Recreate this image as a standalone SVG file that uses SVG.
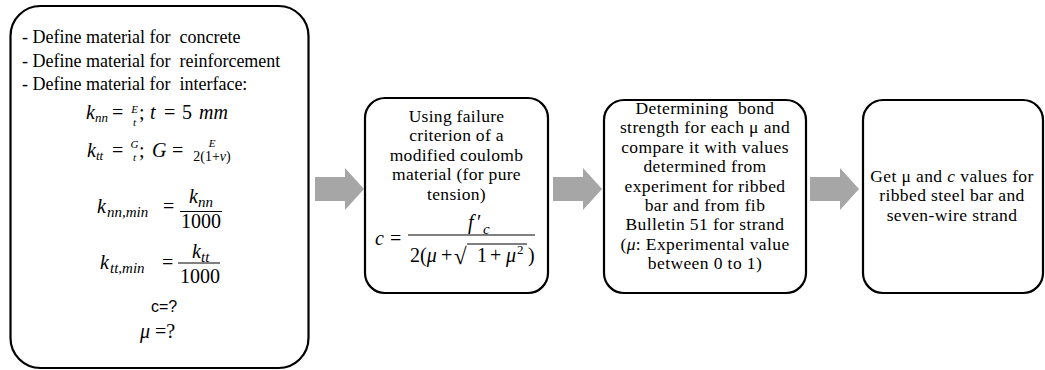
<svg xmlns="http://www.w3.org/2000/svg" width="1045" height="370" viewBox="0 0 1045 370">
<style>
.box{fill:#fff;stroke:#000;stroke-width:2.2}
.t{font-family:"Liberation Serif","Times New Roman",serif;fill:#000}
.s{font-family:"Liberation Sans",Arial,sans-serif;fill:#000}
.b1{font-size:18px}
.b2{font-size:17.5px;text-anchor:middle;letter-spacing:0.3px}
.b3{font-size:17.5px;text-anchor:middle;letter-spacing:0.4px}
.m{font-size:20px}
.i{font-style:italic}
.c{text-anchor:middle}
.arrow{fill:#a6a6a6}
.fl{stroke:#000;stroke-width:1}
</style>
<defs>
<path id="arr" d="M0,-12 H30 V-21 L49,0 L30,21 V12 H0 Z"/>
</defs>
<rect width="1045" height="370" fill="#fff"/>
<g id="connectors" class="arrow">
<use href="#arr" x="315" y="189"/>
<use href="#arr" x="553" y="189"/>
<use href="#arr" x="810" y="189"/>
</g>
<g id="node1">
<rect class="box" x="10.5" y="6" width="298" height="362" rx="30" ry="30"/>
<text class="t b1" x="22" y="43" xml:space="preserve">- Define material for  concrete</text>
<text class="t b1" x="22" y="66.5" xml:space="preserve">- Define material for  reinforcement</text>
<text class="t b1" x="22" y="90" xml:space="preserve">- Define material for  interface:</text>
<text class="t m i" x="86" y="119">k</text>
<text class="t i" x="95" y="122" font-size="13">nn</text>
<text class="t m" x="112" y="119">=</text>
<text class="t i c" x="134.5" y="112.5" font-size="11">E</text>
<text class="t i c" x="134.5" y="126" font-size="11">t</text>
<text class="t m" x="139" y="119">;</text>
<text class="t m i" x="150" y="119">t</text>
<text class="t m" x="164" y="119">=</text>
<text class="t m" x="182" y="119">5</text>
<text class="t m i" x="199" y="119" font-size="21">mm</text>
<text class="t m i" x="87" y="157">k</text>
<text class="t i" x="96" y="160" font-size="13">tt</text>
<text class="t m" x="112" y="157">=</text>
<text class="t i c" x="134.5" y="148" font-size="11">G</text>
<text class="t i c" x="134.5" y="161" font-size="11">t</text>
<text class="t m" x="139" y="157">;</text>
<text class="t m i" x="152" y="157">G</text>
<text class="t m" x="172" y="157">=</text>
<text class="t i c" x="212" y="147" font-size="11">E</text>
<text class="t c" x="212" y="161" font-size="14">2(1+<tspan class="i">v</tspan>)</text>
<text class="t m i" x="97" y="213">k</text>
<text class="t i" x="107" y="217" font-size="15">nn,min</text>
<text class="t m" x="163" y="213">=</text>
<text class="t m i" x="189" y="203">k</text>
<text class="t i" x="198" y="207" font-size="15">nn</text>
<line class="fl" x1="180" y1="211.5" x2="222" y2="211.5"/>
<text class="t m c" x="201" y="228">1000</text>
<text class="t m i" x="100" y="269">k</text>
<text class="t i" x="110" y="273" font-size="15">tt,min</text>
<text class="t m" x="162" y="269">=</text>
<text class="t m i" x="192" y="258">k</text>
<text class="t i" x="201" y="262" font-size="15">tt</text>
<line class="fl" x1="178" y1="263" x2="220" y2="263"/>
<text class="t m c" x="200" y="283">1000</text>
<text class="s c" x="164" y="312" font-size="16">c=?</text>
<text class="t m" x="140" y="338"><tspan class="i">μ</tspan> =?</text>
</g>
<g id="node2">
<rect class="box" x="365" y="98" width="183" height="195" rx="20" ry="20"/>
<text class="t b2" x="456.5" y="122">Using failure</text>
<text class="t b2" x="456.5" y="141.4">criterion of a</text>
<text class="t b2" x="456.5" y="160.8">modified coulomb</text>
<text class="t b2" x="456.5" y="180.2">material (for pure</text>
<text class="t b2" x="456.5" y="199.6">tension)</text>
<text class="t m i" x="375" y="245">c</text>
<text class="t m" x="390" y="245">=</text>
<text class="t m i" x="468" y="229">f</text>
<text class="t m" x="477" y="229">′</text>
<text class="t i" x="483" y="234" font-size="15">c</text>
<line class="fl" x1="408" y1="235" x2="535" y2="235"/>
<text class="t m" x="410" y="262">2(<tspan class="i">μ</tspan></text>
<text class="t m" x="441" y="262">+</text>
<text class="t" x="454" y="264" font-size="23">√</text>
<line class="fl" x1="467" y1="244" x2="527" y2="244"/>
<text class="t m" x="477" y="262">1</text>
<text class="t m" x="490" y="262">+</text>
<text class="t m i" x="506" y="262">μ</text>
<text class="t" x="517" y="254" font-size="13">2</text>
<text class="t m" x="528" y="262">)</text>
</g>
<g id="node3">
<rect class="box" x="604" y="100" width="202" height="193" rx="20" ry="20"/>
<text class="t b3" x="705" y="114" xml:space="preserve">Determining  bond</text>
<text class="t b3" x="705" y="133.4">strength for each μ and</text>
<text class="t b3" x="705" y="152.8">compare it with values</text>
<text class="t b3" x="705" y="172.2">determined from</text>
<text class="t b3" x="705" y="191.6">experiment for ribbed</text>
<text class="t b3" x="705" y="211">bar and from fib</text>
<text class="t b3" x="705" y="230.4">Bulletin 51 for strand</text>
<text class="t b3" x="705" y="249.8">(<tspan class="i">μ</tspan>: Experimental value</text>
<text class="t b3" x="705" y="269.2">between 0 to 1)</text>
</g>
<g id="node4">
<rect class="box" x="863" y="100" width="180" height="193" rx="20" ry="20"/>
<text class="t b3" x="952" y="182">Get μ and <tspan class="i">c</tspan> values for</text>
<text class="t b3" x="952" y="201.4">ribbed steel bar and</text>
<text class="t b3" x="952" y="220.8">seven-wire strand</text>
</g>
</svg>
